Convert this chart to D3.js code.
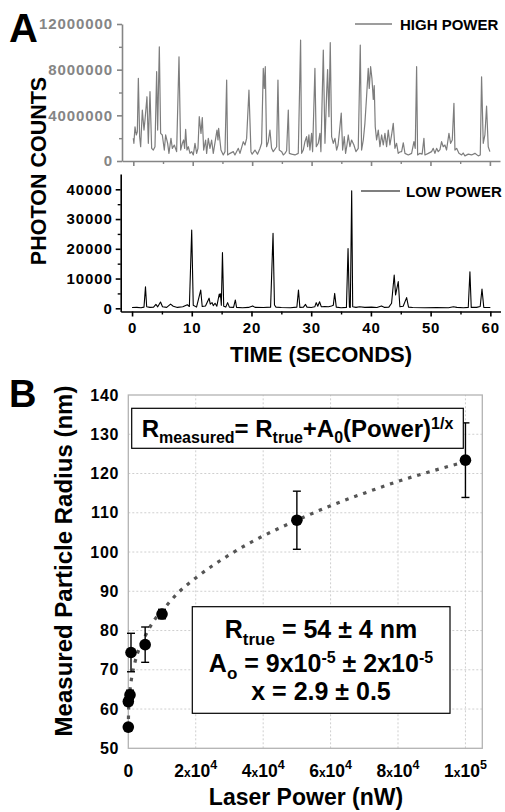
<!DOCTYPE html>
<html>
<head>
<meta charset="utf-8">
<script src="https://cdnjs.cloudflare.com/ajax/libs/d3/7.8.5/d3.min.js"></script>
<style>
  body { margin: 0; background: #fff; }
  svg { display: block; font-family: "Liberation Sans", Arial, sans-serif; font-weight: bold; }
</style>
</head>
<body>
<div id="chart"></div>
<script>

/*  DATA  */
// panel A, high power trace: [seconds, photon counts in millions]
var highPower = [
  [0, 2.0], [0.1, 1.55], [0.29, 3.0], [0.51, 2.28], [0.68, 2.55], [0.85, 7.24], [1.07, 2.1], [1.24, 1.25],
  [1.52, 4.46], [1.8, 2.71], [1.97, 3.59], [2.3, 5.63], [2.53, 1.55], [2.81, 6.07], [3.09, 1.11], [3.37, 0.96],
  [3.65, 1.25], [3.93, 7.82], [4.1, 2.71], [4.38, 10.0], [4.6, 2.42], [4.88, 2.28], [5.22, 0.96], [5.44, 2.28],
  [5.78, 1.55], [6.0, 0.67], [6.34, 1.98], [6.57, 1.11], [6.9, 1.4], [7.29, 0.82], [7.69, 9.13], [7.97, 0.96],
  [8.25, 1.55], [8.47, 1.84], [8.64, 1.1], [8.81, 2.77], [9.03, 0.96], [9.26, 1.25], [9.54, 0.67], [9.82, 0.82],
  [10.1, 0.53], [10.38, 1.55], [10.66, 0.67], [10.88, 1.1], [11.1, 3.88], [11.39, 2.42], [11.61, 3.8], [11.84, 0.96],
  [12.17, 1.84], [12.34, 0.67], [12.62, 1.98], [12.9, 1.11], [13.18, 1.84], [13.46, 0.67], [13.86, 1.98], [14.08, 2.71],
  [14.25, 1.84], [14.36, 2.86], [14.75, 0.96], [15.14, 0.53], [15.43, 0.82], [15.71, 7.09], [15.87, 0.53], [16.27, 0.67],
  [16.83, 0.82], [17.1, 0.53], [17.67, 1.11], [17.95, 0.67], [18.51, 1.69], [18.79, 1.4], [19.07, 1.98], [19.46, 6.2],
  [19.8, 0.82], [20.0, 0.6], [20.47, 0.96], [20.9, 0.6], [21.31, 1.1], [21.59, 1.55], [21.87, 8.11], [22.04, 6.36],
  [22.21, 8.26], [22.43, 1.25], [22.71, 1.69], [22.99, 2.71], [23.27, 1.11], [23.55, 0.82], [24.12, 1.25], [24.34, 7.09],
  [24.56, 0.96], [24.96, 0.82], [25.24, 0.53], [25.52, 0.67], [25.8, 0.9], [26.08, 4.46], [26.25, 0.67], [26.64, 0.6],
  [27.2, 0.53], [27.76, 0.67], [28.15, 10.6], [28.32, 0.67], [28.6, 0.96], [28.88, 1.69], [29.16, 2.13], [29.33, 1.25],
  [29.55, 2.28], [29.72, 0.96], [30.0, 2.42], [30.17, 0.82], [30.56, 8.11], [30.79, 1.25], [31.12, 1.55], [31.4, 2.42],
  [31.57, 0.82], [31.97, 9.72], [32.25, 1.55], [32.53, 5.9], [32.69, 8.0], [32.92, 3.88], [33.14, 10.36], [33.37, 2.13],
  [33.65, 1.55], [33.93, 1.98], [34.21, 0.96], [34.45, 1.4], [34.66, 2.42], [34.99, 4.2], [35.22, 0.96], [35.5, 2.13],
  [35.72, 0.67], [35.95, 1.4], [36.17, 2.28], [36.45, 1.25], [36.73, 1.84], [37.12, 1.4], [37.46, 0.82], [37.85, 1.11],
  [38.19, 10.16], [38.41, 0.96], [38.7, 1.84], [38.97, 3.3], [39.25, 5.63], [39.53, 8.11], [39.7, 6.36], [39.93, 8.26],
  [40.15, 7.24], [40.38, 5.4], [40.54, 6.6], [40.71, 3.0], [40.94, 1.84], [41.22, 2.71], [41.5, 1.25], [41.78, 2.28],
  [42.06, 1.4], [42.34, 2.42], [42.62, 1.25], [42.9, 2.71], [43.18, 1.4], [43.46, 2.28], [43.74, 3.3], [44.02, 1.11],
  [44.3, 1.55], [44.58, 0.67], [44.87, 0.8], [45.15, 0.82], [45.43, 1.6], [45.71, 0.67], [46.27, 0.53], [46.83, 0.67],
  [47.22, 1.69], [47.44, 1.11], [47.67, 8.26], [47.84, 0.53], [48.23, 0.67], [48.6, 0.6], [48.9, 1.98], [49.07, 0.53],
  [49.63, 0.67], [50.19, 0.82], [50.47, 1.11], [50.75, 0.67], [51.03, 1.11], [51.31, 0.82], [51.6, 1.0], [51.87, 1.69],
  [52.15, 1.25], [52.43, 1.4], [52.71, 0.96], [53.11, 2.42], [53.39, 1.55], [53.67, 1.84], [53.95, 5.05], [54.12, 0.96],
  [54.4, 1.11], [54.79, 0.67], [55.24, 0.53], [55.5, 0.7], [55.8, 0.45], [56.36, 0.6], [56.92, 0.53], [57.48, 0.67],
  [58.04, 0.45], [58.38, 0.53], [58.6, 7.38], [58.88, 1.55], [59.16, 2.28], [59.44, 4.8], [59.72, 1.25], [60.0, 0.82]
];

// panel A, low power trace: [seconds, photon counts]
var lowPower = [
  [0, 250], [0.8, 300], [1.5, 200], [2.0, 400], [2.25, 7200], [2.45, 500], [3.0, 300], [3.6, 400], [4.0, 1300],
  [4.3, 500], [4.77, 2100], [5.1, 500], [5.8, 300], [6.45, 1400], [6.9, 700], [7.6, 300], [8.5, 500], [9.26, 1200],
  [9.6, 600], [9.99, 26300], [10.25, 1000], [10.8, 400], [11.5, 6100], [11.75, 600], [12.3, 800], [12.9, 3400],
  [13.1, 1400], [13.4, 1900], [13.6, 900], [13.9, 1700], [14.2, 700], [14.6, 4800], [14.7, 3800], [14.8, 4900],
  [14.95, 1000], [15.14, 18700], [15.35, 700], [15.7, 400], [16.0, 1900], [16.3, 400], [17.0, 300], [17.3, 2800],
  [17.5, 300], [18.5, 200], [19.5, 300], [20.2, 800], [20.6, 300], [22, 250], [23.2, 400], [23.61, 25200],
  [23.85, 1100], [24.1, 400], [25, 250], [26.5, 200], [27.6, 400], [27.87, 6100], [28.1, 300], [28.7, 400],
  [29.05, 1300], [29.3, 400], [30.0, 250], [30.6, 500], [30.84, 1900], [31.1, 700], [31.4, 2200], [31.7, 500],
  [32.3, 600], [32.9, 500], [33.4, 800], [33.7, 1000], [33.93, 5000], [34.2, 400], [35, 200], [35.9, 300],
  [36.17, 20100], [36.4, 400], [36.55, 300], [36.78, 39500], [36.95, 500], [37.5, 300], [38.1, 500], [39, 300],
  [40.1, 400], [41, 250], [41.77, 800], [42.3, 300], [43.0, 400], [43.46, 1700], [43.9, 11200], [44.13, 4500],
  [44.58, 9000], [44.85, 500], [45.4, 700], [45.98, 3600], [46.3, 400], [47, 250], [49, 200], [51, 250], [53, 200],
  [53.8, 500], [54.4, 300], [55.5, 200], [56.3, 300], [56.58, 12300], [56.8, 300], [57.7, 300], [58.3, 600],
  [58.6, 6500], [58.9, 300], [60, 250]
];

var timeTicks = [0, 10, 20, 30, 40, 50, 60];
var timeMinorTicks = [5, 15, 25, 35, 45, 55];
var highTicks = [0, 4000000, 8000000, 12000000];
var highMinorTicks = [2000000, 6000000, 10000000];
var lowTicks = [0, 10000, 20000, 30000, 40000];
var lowMinorTicks = [5000, 15000, 25000, 35000];

// panel B, measured radius vs laser power
var powerNW = [0, 0, 500, 800, 5000, 10000, 50000, 100000];
var radiusNm = [55.4, 61.9, 63.6, 74.4, 76.4, 84.2, 108.1, 123.4];
var radiusErr = [0.8, 1.0, 1.2, 4.9, 4.5, 1.2, 7.4, 9.5];

// dotted fit line
var fitPower = [0, 100, 300, 600, 1000, 2000, 3500, 5000, 7500, 10000, 15000, 20000, 30000, 40000, 50000, 60000, 70000, 80000, 90000, 100000];
var fitRadius = [55, 60, 63, 65.5, 68, 72, 76, 78.6, 82.4, 85, 89.8, 93.4, 99.3, 104.1, 108.1, 111.8, 115, 118, 120.6, 123];

var radiusTicks = [50, 60, 70, 80, 90, 100, 110, 120, 130, 140];
var powerTicks = [0, 20000, 40000, 60000, 80000, 100000];

/*  CHART  */
var svg = d3.select("#chart").append("svg")
    .attr("width", 505)
    .attr("height", 812);

svg.append("rect")
    .attr("width", 505)
    .attr("height", 812)
    .attr("fill", "#fff");

function styleAxis(g, color, fontSize, spacing) {
  g.attr("font-family", null).attr("font-size", null);
  g.select(".domain").attr("stroke", color).attr("stroke-width", 1.6);
  g.selectAll(".tick line").attr("stroke", color).attr("stroke-width", 1.6);
  g.selectAll(".tick text")
      .attr("fill", color)
      .attr("font-size", fontSize)
      .attr("font-weight", "bold")
      .attr("letter-spacing", spacing || 0);
  return g;
}

function minorAxis(g, axis, color) {
  g.call(axis);
  g.select(".domain").remove();
  g.selectAll(".tick line").attr("stroke", color).attr("stroke-width", 1.4);
}

/* ---- panel A ---- */
var xTime = d3.scaleLinear().domain([-1.9, 61.7]).range([122, 500]);
var yHigh = d3.scaleLinear().domain([0, 12000000]).range([161, 24]);
var yLow = d3.scaleLinear().domain([-1076, 45143]).range([311.5, 174]);

var grayAxis = "#858585";

// high power axes
svg.append("g")
    .attr("transform", "translate(122,0)")
    .call(d3.axisLeft(yHigh).tickValues(highTicks).tickSize(5).tickSizeOuter(0)
      .tickPadding(4).tickFormat(d3.format("d")))
    .call(styleAxis, grayAxis, 15, 0.9);
svg.append("g")
    .attr("transform", "translate(122,0)")
    .call(minorAxis, d3.axisLeft(yHigh).tickValues(highMinorTicks).tickSize(3).tickFormat(""), grayAxis);

svg.append("g")
    .attr("transform", "translate(0,161)")
    .call(d3.axisBottom(xTime).tickValues(timeTicks).tickSize(5).tickSizeOuter(0).tickFormat(""))
    .call(styleAxis, grayAxis, 15);
svg.append("g")
    .attr("transform", "translate(0,161)")
    .call(minorAxis, d3.axisBottom(xTime).tickValues(timeMinorTicks).tickSize(3).tickFormat(""), grayAxis);

svg.append("path")
    .datum(highPower)
    .attr("fill", "none")
    .attr("stroke", "#7d7d7d")
    .attr("stroke-width", 1.2)
    .attr("stroke-linejoin", "round")
    .attr("d", d3.line()
      .x(function(d) { return xTime(d[0]); })
      .y(function(d) { return yHigh(d[1] * 1e6); }));

// low power axes
var xTimeLow = xTime.copy().range([120.7, 500.5]);

svg.append("g")
    .attr("transform", "translate(120.7,0)")
    .call(d3.axisLeft(yLow).tickValues(lowTicks).tickSize(5).tickSizeOuter(0)
      .tickPadding(3).tickFormat(d3.format("d")))
    .call(styleAxis, "#000", 15, 0.9);
svg.append("g")
    .attr("transform", "translate(120.7,0)")
    .call(minorAxis, d3.axisLeft(yLow).tickValues(lowMinorTicks).tickSize(3).tickFormat(""), "#000");

svg.append("g")
    .attr("transform", "translate(0,311.5)")
    .call(d3.axisBottom(xTimeLow).tickValues(timeTicks).tickSize(5).tickSizeOuter(0).tickPadding(6))
    .call(styleAxis, "#000", 15, 0.9);
svg.append("g")
    .attr("transform", "translate(0,311.5)")
    .call(minorAxis, d3.axisBottom(xTimeLow).tickValues(timeMinorTicks).tickSize(3).tickFormat(""), "#000");

svg.append("path")
    .datum(lowPower)
    .attr("fill", "none")
    .attr("stroke", "#000")
    .attr("stroke-width", 1.1)
    .attr("stroke-linejoin", "round")
    .attr("d", d3.line()
      .x(function(d) { return xTimeLow(d[0]); })
      .y(function(d) { return yLow(d[1]); }));

// legends
svg.append("line").attr("x1", 355).attr("x2", 392).attr("y1", 24).attr("y2", 24)
    .attr("stroke", "#7d7d7d").attr("stroke-width", 1.3);
svg.append("text").attr("x", 400).attr("y", 29.5).attr("font-size", 15).text("HIGH POWER");

svg.append("line").attr("x1", 361).attr("x2", 400).attr("y1", 191).attr("y2", 191)
    .attr("stroke", "#555").attr("stroke-width", 1.3);
svg.append("text").attr("x", 406).attr("y", 196.5).attr("font-size", 15).text("LOW POWER");

svg.append("text")
    .attr("transform", "translate(46,171) rotate(-90)")
    .attr("text-anchor", "middle")
    .attr("font-size", 21.5)
    .text("PHOTON COUNTS");

svg.append("text")
    .attr("x", 321)
    .attr("y", 362)
    .attr("text-anchor", "middle")
    .attr("font-size", 22)
    .text("TIME (SECONDS)");

svg.append("text").attr("x", 9).attr("y", 42).attr("font-size", 40).text("A");

/* ---- panel B ---- */
var xPower = d3.scaleLinear().domain([0, 105000]).range([128.3, 482.3]);
var yRadius = d3.scaleLinear().domain([50, 140]).range([748.3, 395]);

var grid = svg.append("g")
    .attr("stroke", "#cfcfcf")
    .attr("stroke-width", 1)
    .attr("stroke-dasharray", "2,2");

grid.selectAll(".hgrid")
    .data(radiusTicks.slice(1, -1))
  .enter().append("line")
    .attr("x1", xPower.range()[0])
    .attr("x2", xPower.range()[1])
    .attr("y1", function(d) { return yRadius(d); })
    .attr("y2", function(d) { return yRadius(d); });

grid.selectAll(".vgrid")
    .data(powerTicks.slice(1))
  .enter().append("line")
    .attr("x1", function(d) { return xPower(d); })
    .attr("x2", function(d) { return xPower(d); })
    .attr("y1", yRadius.range()[0])
    .attr("y2", yRadius.range()[1]);

svg.append("rect")
    .attr("x", xPower.range()[0])
    .attr("y", yRadius.range()[1])
    .attr("width", xPower.range()[1] - xPower.range()[0])
    .attr("height", yRadius.range()[0] - yRadius.range()[1])
    .attr("fill", "none")
    .attr("stroke", "#b3b3b3")
    .attr("stroke-width", 1.3);

// y tick labels
svg.append("g")
    .attr("transform", "translate(128.3,0)")
    .call(d3.axisLeft(yRadius).tickValues(radiusTicks).tickSize(0).tickPadding(9))
    .call(styleAxis, "#000", 16, 0.8)
    .select(".domain").remove();

// x tick labels, written as 2x10^4
var xLabels = svg.append("g")
    .attr("font-size", 17.5)
    .attr("text-anchor", "middle");

xLabels.selectAll("text")
    .data(powerTicks)
  .enter().append("text")
    .attr("x", function(d) { return xPower(d); })
    .attr("y", 777)
    .each(function(d) {
      var t = d3.select(this);
      if (d === 0) { t.text("0"); return; }
      var p = Math.floor(Math.log10(d));
      t.append("tspan").text(d / Math.pow(10, p));
      t.append("tspan").attr("font-size", 12).text("x");
      t.append("tspan").text("10");
      t.append("tspan").attr("font-size", 12.5).attr("dy", -8.5).text(p);
    });

// fit curve
svg.append("path")
    .datum(d3.zip(fitPower, fitRadius))
    .attr("fill", "none")
    .attr("stroke", "#555")
    .attr("stroke-width", 3.2)
    .attr("stroke-dasharray", "3.5,6")
    .attr("d", d3.line()
      .x(function(d) { return xPower(d[0]); })
      .y(function(d) { return yRadius(d[1]); })
      .curve(d3.curveMonotoneX));

var points = d3.range(powerNW.length);

var bars = svg.append("g")
    .attr("stroke", "#000")
    .attr("stroke-width", 1.4);

bars.selectAll(".bar")
    .data(points)
  .enter().append("line")
    .attr("x1", function(i) { return xPower(powerNW[i]); })
    .attr("x2", function(i) { return xPower(powerNW[i]); })
    .attr("y1", function(i) { return yRadius(radiusNm[i] - radiusErr[i]); })
    .attr("y2", function(i) { return yRadius(radiusNm[i] + radiusErr[i]); });

[-1, 1].forEach(function(side) {
  bars.selectAll(".cap" + side)
      .data(points)
    .enter().append("line")
      .attr("x1", function(i) { return xPower(powerNW[i]) - 4; })
      .attr("x2", function(i) { return xPower(powerNW[i]) + 4; })
      .attr("y1", function(i) { return yRadius(radiusNm[i] + side * radiusErr[i]); })
      .attr("y2", function(i) { return yRadius(radiusNm[i] + side * radiusErr[i]); });
});

svg.selectAll(".dot")
    .data(points)
  .enter().append("circle")
    .attr("cx", function(i) { return xPower(powerNW[i]); })
    .attr("cy", function(i) { return yRadius(radiusNm[i]); })
    .attr("r", 5.8)
    .attr("fill", "#000");

// equation box
svg.append("rect")
    .attr("x", 131.7).attr("y", 408.3).attr("width", 331.6).attr("height", 40)
    .attr("fill", "#fff").attr("stroke", "#000").attr("stroke-width", 1.2);

var eq = svg.append("text")
    .attr("x", 297.5)
    .attr("y", 437.3)
    .attr("text-anchor", "middle")
    .attr("font-size", 24);
eq.append("tspan").text("R");
eq.append("tspan").attr("font-size", 16).attr("dy", 5.5).text("measured");
eq.append("tspan").attr("dy", -5.5).text("= R");
eq.append("tspan").attr("font-size", 16).attr("dy", 5.5).text("true");
eq.append("tspan").attr("dy", -5.5).text("+A");
eq.append("tspan").attr("font-size", 16).attr("dy", 5.5).text("0");
eq.append("tspan").attr("dy", -5.5).text("(Power)");
eq.append("tspan").attr("font-size", 16).attr("dy", -8).text("1/x");

// fit results box
svg.append("rect")
    .attr("x", 192.3).attr("y", 606.7).attr("width", 257.7).attr("height", 106.6)
    .attr("fill", "#fff").attr("stroke", "#000").attr("stroke-width", 1.2);

var res = svg.append("g")
    .attr("text-anchor", "middle")
    .attr("font-size", 25);

var l1 = res.append("text").attr("x", 321).attr("y", 638);
l1.append("tspan").text("R");
l1.append("tspan").attr("font-size", 17).attr("dy", 7).text("true");
l1.append("tspan").attr("dy", -7).text(" = 54 \u00b1 4 nm");

var l2 = res.append("text").attr("x", 321).attr("y", 671.5);
l2.append("tspan").text("A");
l2.append("tspan").attr("font-size", 17).attr("dy", 7).text("o");
l2.append("tspan").attr("dy", -7).text(" = 9x10");
l2.append("tspan").attr("font-size", 16).attr("dy", -9).text("-5");
l2.append("tspan").attr("dy", 9).text(" \u00b1 2x10");
l2.append("tspan").attr("font-size", 16).attr("dy", -9).text("-5");

res.append("text").attr("x", 321).attr("y", 700).text("x = 2.9 \u00b1 0.5");

// axis titles
svg.append("text")
    .attr("transform", "translate(72,561) rotate(-90)")
    .attr("text-anchor", "middle")
    .attr("font-size", 24)
    .text("Measured Particle Radius (nm)");

svg.append("text")
    .attr("x", 306)
    .attr("y", 805)
    .attr("text-anchor", "middle")
    .attr("font-size", 23)
    .text("Laser Power (nW)");

svg.append("text").attr("x", 9).attr("y", 407).attr("font-size", 38).text("B");

</script>
</body>
</html>
